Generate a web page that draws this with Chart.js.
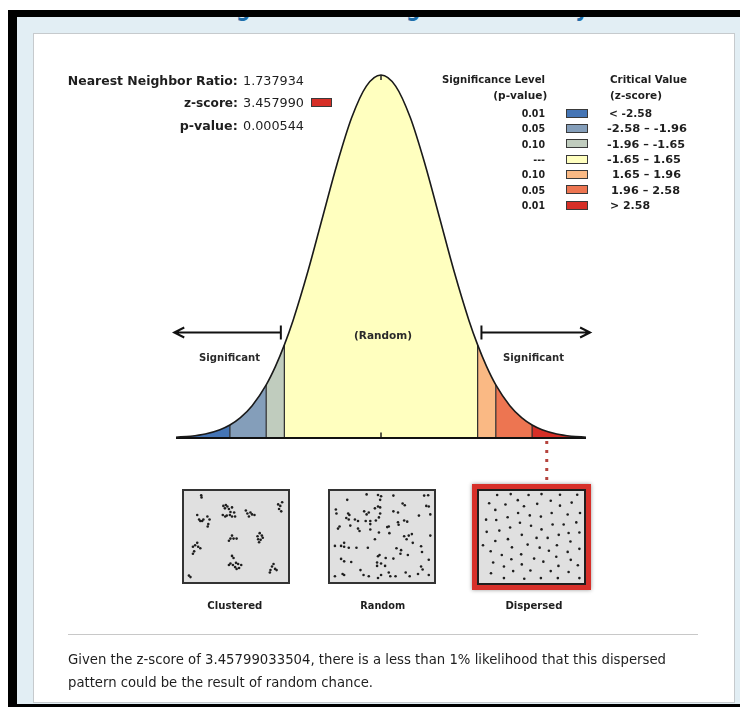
<!DOCTYPE html>
<html><head><meta charset="utf-8">
<script src="https://cdn.jsdelivr.net/npm/chart.js@4.4.1/dist/chart.umd.min.js"></script>
<style>
*{box-sizing:border-box}
html,body{margin:0;padding:0;width:740px;height:707px;overflow:hidden;background:#fff}
body{position:relative;font-family:"DejaVu Sans Condensed","DejaVu Sans",sans-serif;color:#1e1e1e}
.a{position:absolute}
#black{left:8px;top:10px;width:732px;height:697px;background:#000;z-index:1}
#blue{left:17px;top:17px;width:723px;height:687px;background:#e2eef4;overflow:hidden;z-index:2}
#title{left:63px;top:-21px;width:600px;text-align:center;font-family:"DejaVu Sans",sans-serif;font-weight:bold;font-size:24px;line-height:24px;color:#1f6fab;white-space:nowrap}
#panel{left:33px;top:33px;width:702px;height:670px;background:#fff;border:1px solid #c6cacd;z-index:3}
#curve{left:0;top:0;width:740px;height:707px;z-index:4;pointer-events:none}
#texts{left:0;top:0;width:740px;height:707px;z-index:6}
.box{background:#e0e0e0;border:2px solid #333;z-index:5}
.box canvas{position:absolute;left:0;top:0}
#dispFrame{left:472px;top:484px;width:119px;height:106px;background:#d7302a;box-shadow:0 0 4px rgba(0,0,0,.4);z-index:5}
#divider{left:68px;top:634px;width:630px;height:1px;background:#c8c8c8;z-index:5}
.sw{position:absolute;width:22px;height:9px;border:1px solid #3a3a3a}
</style>
</head><body>
<div id="black" class="a"></div>
<div id="blue" class="a"><div id="title" class="a"><span id="titleSpan" style="display:inline-block;transform-origin:center center">Average Nearest Neighbor Summary</span></div></div>
<div id="panel" class="a"></div>
<canvas id="curve" class="a" width="740" height="707"></canvas>
<div id="boxClustered" class="a box" style="left:182px;top:489px;width:108px;height:95px"><canvas id="cClustered" width="104" height="91" style="width:104px;height:91px"></canvas></div>
<div id="boxRandom" class="a box" style="left:328px;top:489px;width:108px;height:95px"><canvas id="cRandom" width="104" height="91" style="width:104px;height:91px"></canvas></div>
<div id="dispFrame" class="a"></div>
<div id="boxDispersed" class="a box" style="left:477px;top:489px;width:109px;height:96px;border-color:#1e1e1e;z-index:6"><canvas id="cDispersed" width="105" height="92" style="width:105px;height:92px"></canvas></div>
<div id="divider" class="a"></div>
<div id="texts" class="a"></div>
<script>
// ---------- data ----------
const nnRatio = '1.737934';
const zScore = 3.457990;
const zScoreText = '3.457990';
const zScoreFull = '3.45799033504';
const pValueText = '0.000544';
const markerZ = 2.83;

const curveZ = [-3.5,-3.25,-3,-2.75,-2.58,-2.4,-2.2,-1.96,-1.8,-1.65,-1.5,-1.25,-1,-0.75,-0.5,-0.25,0,0.25,0.5,0.75,1,1.25,1.5,1.65,1.8,1.96,2.2,2.4,2.58,2.75,3,3.25,3.5];
const curveDensity = [0.0009,0.0020,0.0044,0.0091,0.0143,0.0224,0.0355,0.0584,0.0790,0.1023,0.1295,0.1826,0.2420,0.3011,0.3521,0.3867,0.3989,0.3867,0.3521,0.3011,0.2420,0.1826,0.1295,0.1023,0.0790,0.0584,0.0355,0.0224,0.0143,0.0091,0.0044,0.0020,0.0009];
const zBreaks = [-3.5,-2.58,-1.96,-1.65,1.65,1.96,2.58,3.5];
const zoneColors = ['#4575B5','#849EBA','#C0CCBE','#FFFFBF','#FAB984','#ED7551','#D62F27'];
const pValueLabels = ['0.01','0.05','0.10','---','0.10','0.05','0.01'];
const criticalLabels = ['< -2.58','-2.58 \u2013 -1.96','-1.96 \u2013 -1.65','-1.65 \u2013 1.65','1.65 \u2013 1.96','1.96 \u2013 2.58','> 2.58'];
const patternLabels = ['Clustered','Random','Dispersed'];

const clusteredPts = [[55,15],[56,22],
[127,50],[135,47],[140,52],[132,58],[145,60],[155,55],[150,70],[125,80],[133,85],[138,82],[148,80],[155,85],[165,85],[162,72],
[200,65],[205,75],[215,72],[220,78],[228,80],[210,85],
[305,45],[312,50],[318,38],[308,60],[315,68],
[42,80],[48,95],[52,100],[58,100],[62,95],[75,85],[82,95],[78,110],[76,118],
[155,148],[150,158],[160,158],[145,165],[170,158],
[238,150],[245,140],[252,148],[240,160],[248,162],[255,155],[243,170],
[28,185],[35,180],[42,172],[45,185],[52,190],[32,200],[28,208],
[155,215],[160,222],[150,240],[158,245],[168,238],[175,242],[185,245],[165,252],[170,258],[178,255],[145,245],
[290,242],[285,250],[295,258],[280,262],[278,270],[300,262],
[15,280],[20,285]];
const randomPts = [[55,30],[118,12],[155,14],[165,18],[205,16],[305,16],[318,15],[162,30],[18,62],[20,75],[58,75],[62,80],[52,90],[60,95],[80,95],[90,100],[110,68],[118,78],[125,72],[145,58],[155,52],[162,55],[162,75],[158,88],[148,98],[130,100],[115,100],[205,68],[220,72],[235,42],[242,48],[288,82],[312,50],[320,52],[325,78],[30,118],[25,125],[65,115],[90,125],[95,133],[130,110],[130,128],[185,120],[190,118],[220,104],[222,112],[240,98],[250,102],[158,138],[192,140],[240,150],[255,148],[265,143],[248,160],[268,172],[145,160],[325,148],[15,182],[35,182],[45,172],[45,185],[60,188],[85,188],[122,188],[215,190],[230,196],[228,208],[252,212],[295,183],[298,202],[160,212],[155,216],[180,222],[205,224],[35,225],[45,233],[68,235],[152,237],[165,240],[152,248],[178,248],[320,228],[295,250],[300,260],[15,282],[40,275],[45,278],[98,262],[108,278],[125,282],[155,288],[165,278],[190,270],[195,282],[212,282],[245,270],[258,282],[285,275],[320,278]];
const dispersedPts = [[58,15],[102,12],[160,15],[202,12],[262,14],[318,14],[32,42],[85,46],[125,32],[145,52],[188,44],[232,34],[262,50],[300,40],[52,64],[126,74],[164,82],[200,86],[235,74],[287,79],[327,74],[22,96],[55,97],[92,88],[132,106],[168,116],[238,112],[274,112],[315,105],[24,136],[65,132],[100,122],[202,128],[258,146],[290,140],[325,138],[52,166],[93,160],[138,146],[186,156],[222,156],[296,168],[12,180],[106,187],[157,178],[196,188],[252,180],[325,192],[37,200],[73,212],[136,210],[226,198],[287,202],[104,226],[178,224],[250,218],[297,228],[45,237],[80,250],[138,243],[208,234],[257,248],[320,246],[38,272],[110,265],[166,263],[232,265],[290,268],[80,288],[146,290],[200,288],[255,288],[325,288]];

// ---------- text helper ----------
const T = document.getElementById('texts');
function addText(txt, x, y, o){
  o = o || {};
  const size = o.size || 13, lh = Math.round(size*1.3);
  const d = document.createElement('div'); d.className = 'a';
  d.style.top = (y - lh/2) + 'px'; d.style.lineHeight = lh + 'px'; d.style.height = lh + 'px';
  d.style.fontSize = size + 'px'; d.style.fontWeight = o.bold ? 'bold' : 'normal';
  d.style.color = o.color || '#1e1e1e'; d.style.whiteSpace = 'nowrap';
  if (o.align === 'right'){ d.style.left = (x-500)+'px'; d.style.width='500px'; d.style.textAlign='right'; }
  else if (o.align === 'center'){ d.style.left = (x-300)+'px'; d.style.width='600px'; d.style.textAlign='center'; }
  else { d.style.left = x + 'px'; }
  const s = document.createElement('span'); s.textContent = txt; s.style.display = 'inline-block';
  s.style.transformOrigin = o.align==='right' ? 'right center' : (o.align==='center' ? 'center center' : 'left center');
  d.appendChild(s); T.appendChild(d);
  if (o.w){ const w = s.getBoundingClientRect().width; if (w > 0) s.style.transform = 'scaleX(' + (o.w/w) + ')'; }
  return d;
}
// title fit
(function(){const s=document.getElementById('titleSpan');const w=s.getBoundingClientRect().width;if(w>0)s.style.transform='scaleX('+(418/w)+')';})();

// stats block
addText('Nearest Neighbor Ratio:', 238, 80.5, {bold:true, align:'right', size:13, w:170});
addText(nnRatio, 243, 80.5, {size:13, w:61});
addText('z-score:', 238, 102.5, {bold:true, align:'right', size:13, w:54});
addText(zScoreText, 243, 102.5, {size:13, w:61});
addText('p-value:', 238, 125, {bold:true, align:'right', size:13, w:58});
addText(pValueText, 243, 125, {size:13, w:61});
// z-score swatch coloured by its bin
let zBin = 0; for (let k=0;k<zoneColors.length;k++){ if (zScore >= zBreaks[k]) zBin = k; }
const zsw = document.createElement('div'); zsw.className='sw';
zsw.style.left='311px'; zsw.style.top='98px'; zsw.style.width='21px'; zsw.style.background=zoneColors[zBin];
T.appendChild(zsw);

// legend
addText('Significance Level', 545, 79, {bold:true, align:'right', size:10.5, w:103});
addText('(p-value)', 547, 95, {bold:true, align:'right', size:10.5, w:54});
addText('Critical Value', 610, 79, {bold:true, size:10.5, w:77});
addText('(z-score)', 610, 95, {bold:true, size:10.5, w:52});
const rangeX = [609,607,607,607,612,611,610];
const rangeW = [43,80,78,74,69,69,40];
pValueLabels.forEach((p,i)=>{
  const cy = 113 + i*15.35;
  addText(p, 545, cy, {bold:true, align:'right', size:10.5});
  const sw = document.createElement('div'); sw.className='sw';
  sw.style.left='566px'; sw.style.top=(cy-4.5)+'px'; sw.style.background=zoneColors[i];
  T.appendChild(sw);
  addText(criticalLabels[i], rangeX[i], cy, {bold:true, size:10.5, w:rangeW[i]});
});

// chart labels
addText('(Random)', 383, 335, {bold:true, align:'center', size:10.5, w:58, color:'#2a2a2a'});
addText('Significant', 229.5, 357, {bold:true, align:'center', size:10.5, w:61, color:'#2a2a2a'});
addText('Significant', 533, 357, {bold:true, align:'center', size:10.5, w:61, color:'#2a2a2a'});
const patCx = [234.5, 382.5, 533.5], patW = [55, 45, 57];
patternLabels.forEach((l,i)=> addText(l, patCx[i], 606, {bold:true, align:'center', size:11, w:patW[i]}));

// summary text
addText('Given the z-score of ' + zScoreFull + ', there is a less than 1% likelihood that this dispersed', 68, 659, {size:14, w:598});
addText('pattern could be the result of random chance.', 68, 682, {size:14, w:305});

// ---------- normal curve chart ----------
const pts = curveZ.map((z,i)=>({x:z, y:curveDensity[i]}));
const peakIdx = curveZ.indexOf(0);
const datasets = [];
datasets.push({data:pts, borderColor:'#1a1a1a', borderWidth:1.6, fill:false, cubicInterpolationMode:'monotone', pointRadius:0, clip:false, order:0});
datasets.push({data:[{x:zBreaks[0],y:0},{x:zBreaks[zBreaks.length-1],y:0}], borderColor:'#111', borderWidth:2.2, fill:false, pointRadius:0, clip:false, order:0});
zBreaks.slice(1,-1).forEach(b=>{
  const i = curveZ.indexOf(b);
  datasets.push({data:[{x:b,y:0},{x:b,y:curveDensity[i]}], borderColor:'#2a2a2a', borderWidth:1.2, fill:false, pointRadius:0, clip:false, order:1});
});
datasets.push({data:[{x:0,y:0},{x:0,y:0.006}], borderColor:'#222', borderWidth:1.5, fill:false, pointRadius:0, clip:false, order:1});
datasets.push({data:[{x:0,y:curveDensity[peakIdx]},{x:0,y:curveDensity[peakIdx]-0.0055}], borderColor:'#222', borderWidth:1.5, fill:false, pointRadius:0, clip:false, order:1});
zoneColors.forEach((c,k)=>{
  const lo = zBreaks[k], hi = zBreaks[k+1];
  datasets.push({data:pts.filter(p=>p.x>=lo && p.x<=hi), backgroundColor:c, borderColor:'rgba(0,0,0,0)', borderWidth:0, fill:'origin', cubicInterpolationMode:'monotone', pointRadius:0, order:5});
});

const annotate = {
  id:'annotate',
  afterDatasetsDraw(chart){
    const {ctx, scales:{x}, chartArea} = chart;
    ctx.save();
    ctx.strokeStyle = '#111'; ctx.lineWidth = 2; ctx.lineCap = 'butt';
    const ay = chartArea.bottom - 105.5;
    const lt = x.getPixelForValue(-3.53), lb = x.getPixelForValue(-1.71);
    const rb = x.getPixelForValue(1.715), rt = x.getPixelForValue(3.57);
    ctx.beginPath();
    ctx.moveTo(lt, ay); ctx.lineTo(lb, ay);
    ctx.moveTo(lb, ay-7); ctx.lineTo(lb, ay+7);
    ctx.moveTo(lt+10, ay-5); ctx.lineTo(lt, ay); ctx.lineTo(lt+10, ay+5);
    ctx.moveTo(rb, ay); ctx.lineTo(rt, ay);
    ctx.moveTo(rb, ay-7); ctx.lineTo(rb, ay+7);
    ctx.moveTo(rt-10, ay-5); ctx.lineTo(rt, ay); ctx.lineTo(rt-10, ay+5);
    ctx.stroke();
    // z-score marker dotted line
    const mx = x.getPixelForValue(markerZ);
    ctx.strokeStyle = '#b5443e'; ctx.lineWidth = 3; ctx.setLineDash([3,6]);
    ctx.beginPath(); ctx.moveTo(mx, chartArea.bottom + 3); ctx.lineTo(mx, chartArea.bottom + 46); ctx.stroke();
    ctx.restore();
  }
};

new Chart(document.getElementById('curve'), {
  type:'line',
  data:{datasets},
  options:{
    responsive:false, animation:false,
    layout:{padding:{left:176, right:154, top:75, bottom:269}},
    scales:{
      x:{type:'linear', min:-3.5, max:3.5, display:false},
      y:{min:0, max:0.3989, display:false}
    },
    plugins:{legend:{display:false}, tooltip:{enabled:false}},
    elements:{point:{radius:0}}
  },
  plugins:[annotate]
});

// ---------- point pattern charts ----------
function dotChart(id, list, xr, yr){
  new Chart(document.getElementById(id), {
    type:'scatter',
    data:{datasets:[{data:list.map(p=>({x:p[0], y:p[1]})), pointRadius:1.3, backgroundColor:'#1e1e1e', borderWidth:0, clip:false}]},
    options:{
      responsive:false, animation:false,
      layout:{padding:0},
      scales:{x:{type:'linear', min:xr[0], max:xr[1], display:false}, y:{min:yr[0], max:yr[1], reverse:true, display:false}},
      plugins:{legend:{display:false}, tooltip:{enabled:false}}
    }
  });
}
dotChart('cClustered', clusteredPts, [12,324], [14,288]);
dotChart('cRandom', randomPts, [12,324], [14,288]);
dotChart('cDispersed', dispersedPts, [12,327], [15,291]);
</script>
</body></html>
